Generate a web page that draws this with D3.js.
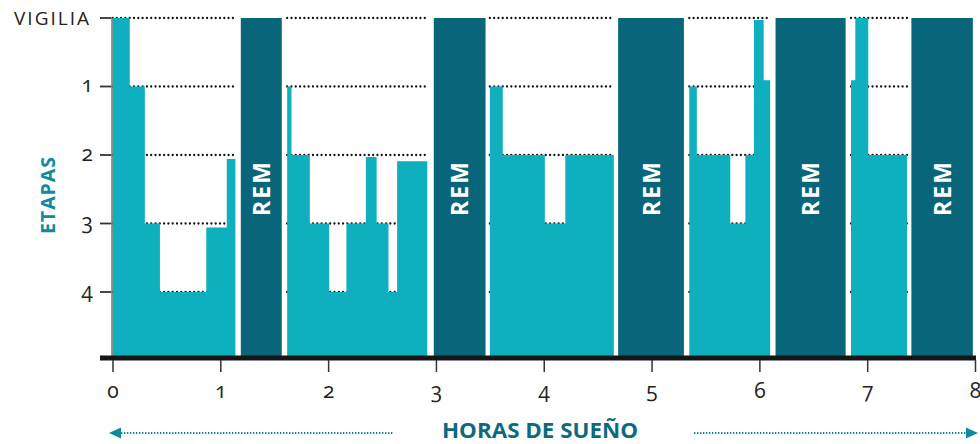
<!DOCTYPE html>
<html>
<head>
<meta charset="utf-8">
<script src="https://cdn.jsdelivr.net/npm/d3@7"></script>
<style>
  html, body { margin: 0; padding: 0; background: #fff; }
  svg { display: block; }
</style>
</head>
<body>
<svg id="chart" width="980" height="444"></svg>
<script>
// Hypnogram: sleep stages over eight hours of sleep
const hourTicks = [0, 1, 2, 3, 4, 5, 6, 7, 8];
const stageLabels = ["VIGILIA", "1", "2", "3", "4"];

// Non-REM stage segments (hours start/end, stage depth: 0 = vigilia, 4 = deepest)
const segStart = [0.00, 0.16, 0.30, 0.44, 0.87, 1.06,
                  1.62, 1.66, 1.83, 2.01, 2.17, 2.35, 2.45, 2.56, 2.64,
                  3.50, 3.62, 4.01, 4.20,
                  5.35, 5.42, 5.73, 5.87, 5.95, 6.04,
                  6.85, 6.89, 7.01];
const segEnd   = [0.16, 0.30, 0.44, 0.87, 1.06, 1.14,
                  1.66, 1.83, 2.01, 2.17, 2.35, 2.45, 2.56, 2.64, 2.92,
                  3.62, 4.01, 4.20, 4.65,
                  5.42, 5.73, 5.87, 5.95, 6.04, 6.10,
                  6.89, 7.01, 7.37];
const segStage = [0, 1, 3, 4, 3.06, 2.06,
                  1, 2, 3, 4, 3, 2.03, 3, 4, 2.09,
                  1, 2, 3, 2,
                  1, 2, 3, 2, 0.03, 0.91,
                  0.91, 0, 2];

// REM periods (hours)
const remStart = [1.19, 2.98, 4.69, 6.15, 7.41];
const remEnd   = [1.57, 3.46, 5.30, 6.80, 7.98];

const LIGHT = "#0eafbf";
const DARK = "#08657a";
const TEAL_TEXT = "#0f8a9e";
const TITLE_TEXT = "#0b6a80";
const FONT = "'Open Sans', sans-serif";

const svg = d3.select("#chart");
const x = d3.scaleLinear().domain([0, 8]).range([112.5, 975]);
const y = d3.scaleLinear().domain([0, 4]).range([18, 292]);
const baseY = 357;

// Group contiguous segments into sleep cycles
const segs = segStart.map((s, i) => ({ s, e: segEnd[i], v: segStage[i] }));
const cycles = [];
segs.forEach(d => {
  const last = cycles[cycles.length - 1];
  if (last && Math.abs(last.e - d.s) < 1e-6) { last.e = d.e; last.segs.push(d); }
  else cycles.push({ s: d.s, e: d.e, segs: [d] });
});

// Dotted stage guides, drawn beneath the bars
const guides = svg.append("g");
cycles.forEach(c => {
  d3.range(stageLabels.length).forEach(k => {
    guides.append("line")
      .attr("x1", x(c.s)).attr("x2", x(c.e))
      .attr("y1", y(k)).attr("y2", y(k))
      .attr("stroke", "#111")
      .attr("stroke-width", 2.3)
      .attr("stroke-linecap", "round")
      .attr("stroke-dasharray", "0,4.3");
  });
});

// Non-REM stages: one stepped shape per cycle
const area = d3.area()
  .x(d => x(d.t))
  .y0(baseY)
  .y1(d => y(d.v))
  .curve(d3.curveStepAfter);

svg.append("g").selectAll("path").data(cycles).join("path")
  .attr("d", c => {
    const pts = c.segs.map(d => ({ t: d.s, v: d.v }));
    pts.push({ t: c.e, v: c.segs[c.segs.length - 1].v });
    return area(pts);
  })
  .attr("fill", LIGHT);

// REM bars
const rem = remStart.map((s, i) => ({ s, e: remEnd[i] }));
svg.append("g").selectAll("rect").data(rem).join("rect")
  .attr("x", d => x(d.s))
  .attr("width", d => x(d.e) - x(d.s))
  .attr("y", y(0))
  .attr("height", baseY - y(0))
  .attr("fill", DARK);

svg.append("g").selectAll("text").data(rem).join("text")
  .attr("transform", d => `translate(${(x(d.s) + x(d.e)) / 2 + 8.5},188) rotate(-90)`)
  .attr("text-anchor", "middle")
  .attr("font-family", FONT)
  .attr("font-weight", 700)
  .attr("font-size", 23)
  .attr("letter-spacing", 2)
  .attr("fill", "#fff")
  .text("REM");

// Y axis: vertical rule, ticks and stage labels
svg.append("line")
  .attr("x1", 112).attr("x2", 112)
  .attr("y1", y(0)).attr("y2", baseY)
  .attr("stroke", "#777").attr("stroke-width", 1.5);

const yTicks = svg.append("g");
stageLabels.forEach((lab, k) => {
  yTicks.append("line")
    .attr("x1", 100).attr("x2", 111)
    .attr("y1", y(k)).attr("y2", y(k))
    .attr("stroke", "#333").attr("stroke-width", 1.8);
  yTicks.append("text")
    .attr("x", k === 0 ? 91 : 93).attr("y", y(k))
    .attr("dy", k === 0 ? "0.36em" : "0.27em")
    .attr("text-anchor", "end")
    .attr("font-family", FONT)
    .attr("font-size", k === 0 ? 19 : 21)
    .attr("letter-spacing", k === 0 ? 2 : 0)
    .attr("fill", "#222")
    .style("font-variant-numeric", "oldstyle-nums")
    .text(lab);
});

svg.append("text")
  .attr("transform", "translate(55,195) rotate(-90)")
  .attr("text-anchor", "middle")
  .attr("font-family", FONT)
  .attr("font-weight", 700)
  .attr("font-size", 19.5)
  .attr("letter-spacing", 1)
  .attr("fill", TEAL_TEXT)
  .text("ETAPAS");

// X axis
svg.append("line")
  .attr("x1", 100).attr("x2", 976)
  .attr("y1", 358).attr("y2", 358)
  .attr("stroke", "#151515").attr("stroke-width", 5);

const xAxis = svg.append("g")
  .attr("transform", "translate(0,360)")
  .call(d3.axisBottom(x).tickValues(hourTicks).tickSize(12).tickFormat(d3.format("d")));
xAxis.select(".domain").remove();
xAxis.selectAll(".tick line").attr("stroke", "#333").attr("stroke-width", 1.5);
xAxis.selectAll(".tick text")
  .attr("y", 38)
  .attr("dy", 0)
  .attr("font-family", FONT)
  .attr("font-size", 21)
  .attr("fill", "#222")
  .style("font-variant-numeric", "oldstyle-nums");

// Axis title with dotted arrows
const ay = 433;
svg.append("text")
  .attr("x", 540).attr("y", 438)
  .attr("text-anchor", "middle")
  .attr("font-family", FONT)
  .attr("font-weight", 700)
  .attr("font-size", 21)
  .attr("textLength", 196)
  .attr("lengthAdjust", "spacingAndGlyphs")
  .attr("fill", TITLE_TEXT)
  .text("HORAS DE SUEÑO");

const arrows = svg.append("g").attr("fill", TEAL_TEXT).attr("stroke", TEAL_TEXT);
[[121, 394], [694, 966]].forEach(([a, b]) => {
  arrows.append("line")
    .attr("x1", a).attr("x2", b).attr("y1", ay).attr("y2", ay)
    .attr("stroke-width", 1.8)
    .attr("stroke-dasharray", "1.4,1.6");
});
arrows.append("path").attr("stroke", "none")
  .attr("d", `M109,${ay} L121,${ay - 5.5} L121,${ay + 5.5} Z`);
arrows.append("path").attr("stroke", "none")
  .attr("d", `M978,${ay} L966,${ay - 5.5} L966,${ay + 5.5} Z`);
</script>
</body>
</html>
